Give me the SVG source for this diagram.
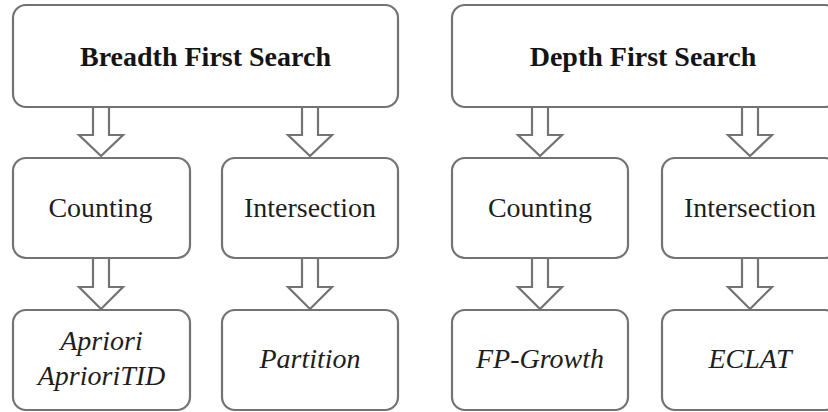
<svg xmlns="http://www.w3.org/2000/svg" width="828" height="412" viewBox="0 0 828 412">
  <style>
    .box { fill: #ffffff; stroke: #737373; stroke-width: 2.2; }
    .arrow { fill: #ffffff; stroke: #737373; stroke-width: 2.2; stroke-linejoin: miter; }
    .head { font-family: "Liberation Serif", "Times New Roman", serif; font-weight: bold; font-size: 28px; fill: #141414; text-anchor: middle; }
    .label { font-family: "Liberation Serif", "Times New Roman", serif; font-size: 28px; fill: #1e1e1e; text-anchor: middle; }
    .algo { font-family: "Liberation Serif", "Times New Roman", serif; font-style: italic; font-size: 28px; fill: #1e1e1e; text-anchor: middle; }
  </style>
  <rect width="828" height="412" fill="#ffffff"/>

  <g id="connectors">
    <!-- hollow block arrows: shaft then head -->
    <path class="arrow" d="M93,108 V135 H79 L101,156 L123,135 H109 V108"/>
    <path class="arrow" d="M302,108 V135 H288 L310,156 L332,135 H318 V108"/>
    <path class="arrow" d="M93,259 V287 H79 L101,309 L123,287 H109 V259"/>
    <path class="arrow" d="M302,259 V287 H288 L310,309 L332,287 H318 V259"/>
    <path class="arrow" d="M532,108 V135 H518 L540,156 L562,135 H548 V108"/>
    <path class="arrow" d="M742,108 V135 H728 L750,156 L772,135 H758 V108"/>
    <path class="arrow" d="M532,259 V287 H518 L540,309 L562,287 H548 V259"/>
    <path class="arrow" d="M742,259 V287 H728 L750,309 L772,287 H758 V259"/>
  </g>

  <g id="bfs">
    <rect class="box" x="13" y="5" width="385" height="102" rx="13"/>
    <text class="head" x="205.5" y="65.5">Breadth First Search</text>
  </g>
  <g id="bfs-counting">
    <rect class="box" x="13" y="158" width="177" height="100" rx="13"/>
    <text class="label" x="100.5" y="217">Counting</text>
  </g>
  <g id="bfs-intersection">
    <rect class="box" x="222" y="158" width="176" height="100" rx="13"/>
    <text class="label" x="310" y="217">Intersection</text>
  </g>
  <g id="apriori">
    <rect class="box" x="13" y="310" width="177" height="100" rx="13"/>
    <text class="algo" x="101.5" y="350">Apriori</text>
    <text class="algo" x="101.5" y="385">AprioriTID</text>
  </g>
  <g id="partition">
    <rect class="box" x="222" y="310" width="176" height="100" rx="13"/>
    <text class="algo" x="310" y="368">Partition</text>
  </g>

  <g id="dfs">
    <rect class="box" x="452" y="5" width="386" height="102" rx="13"/>
    <text class="head" x="643" y="65.5">Depth First Search</text>
  </g>
  <g id="dfs-counting">
    <rect class="box" x="452" y="158" width="176" height="100" rx="13"/>
    <text class="label" x="540" y="217">Counting</text>
  </g>
  <g id="dfs-intersection">
    <rect class="box" x="662" y="158" width="176" height="100" rx="13"/>
    <text class="label" x="750" y="217">Intersection</text>
  </g>
  <g id="fp-growth">
    <rect class="box" x="452" y="310" width="176" height="100" rx="13"/>
    <text class="algo" x="540" y="368">FP-Growth</text>
  </g>
  <g id="eclat">
    <rect class="box" x="662" y="310" width="176" height="100" rx="13"/>
    <text class="algo" x="750" y="368">ECLAT</text>
  </g>
</svg>
